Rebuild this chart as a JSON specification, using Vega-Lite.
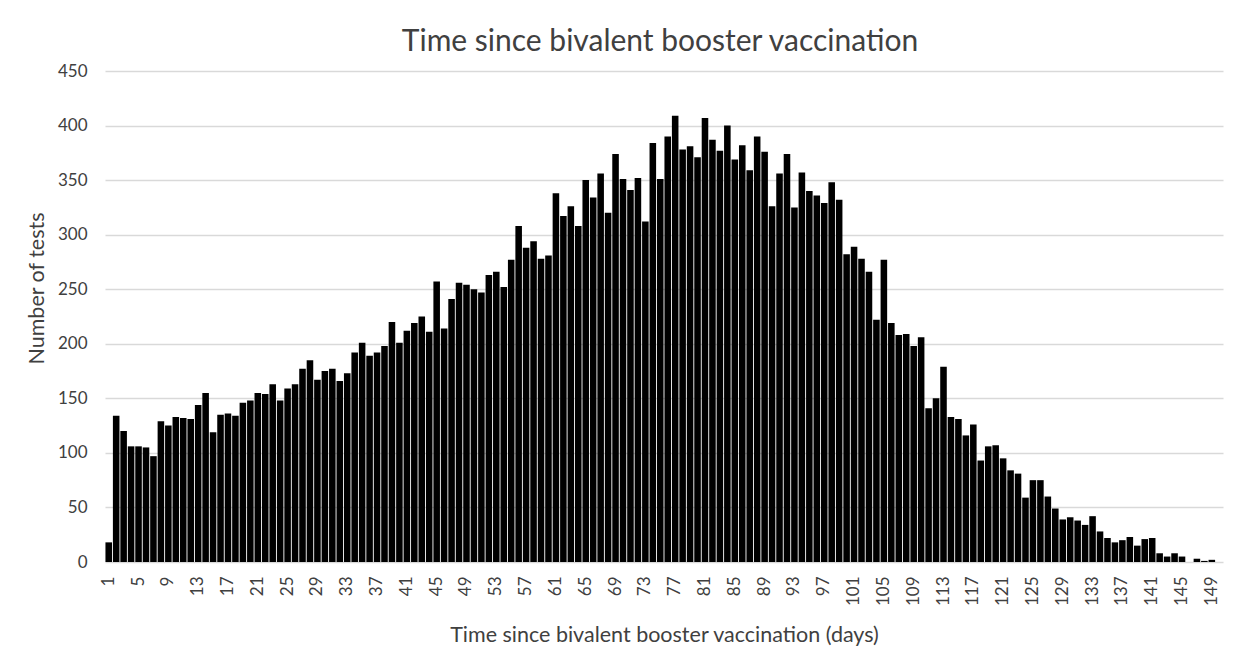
{
  "$schema": "https://vega.github.io/schema/vega-lite/v6.json",
  "autosize": {"type": "none"},
  "padding": {"left": 105, "top": 71, "right": 24, "bottom": 107},
  "width": 1118,
  "height": 491,
  "background": "white",
  "title": {
    "text": "Time since bivalent booster vaccination",
    "font": "Lato",
    "fontSize": 30,
    "fontWeight": "normal",
    "color": "#404040",
    "anchor": "middle",
    "baseline": "alphabetic",
    "offset": -19,
    "dx": -4
  },
  "config": {
    "view": {"stroke": null},
    "axis": {"labelFont": "Lato", "titleFont": "Lato", "labelColor": "#404040", "titleColor": "#404040", "titleFontWeight": "normal"}
  },
  "data": {
    "values": [
      {"day": 1, "tests": 18}, {"day": 2, "tests": 134}, {"day": 3, "tests": 120}, {"day": 4, "tests": 106},
      {"day": 5, "tests": 106}, {"day": 6, "tests": 105}, {"day": 7, "tests": 97}, {"day": 8, "tests": 129},
      {"day": 9, "tests": 125}, {"day": 10, "tests": 133}, {"day": 11, "tests": 132}, {"day": 12, "tests": 131},
      {"day": 13, "tests": 144}, {"day": 14, "tests": 155}, {"day": 15, "tests": 119}, {"day": 16, "tests": 135},
      {"day": 17, "tests": 136}, {"day": 18, "tests": 134}, {"day": 19, "tests": 146}, {"day": 20, "tests": 148},
      {"day": 21, "tests": 155}, {"day": 22, "tests": 154}, {"day": 23, "tests": 163}, {"day": 24, "tests": 148},
      {"day": 25, "tests": 159}, {"day": 26, "tests": 163}, {"day": 27, "tests": 177}, {"day": 28, "tests": 185},
      {"day": 29, "tests": 167}, {"day": 30, "tests": 175}, {"day": 31, "tests": 177}, {"day": 32, "tests": 166},
      {"day": 33, "tests": 173}, {"day": 34, "tests": 192}, {"day": 35, "tests": 201}, {"day": 36, "tests": 189},
      {"day": 37, "tests": 192}, {"day": 38, "tests": 198}, {"day": 39, "tests": 220}, {"day": 40, "tests": 201},
      {"day": 41, "tests": 212}, {"day": 42, "tests": 219}, {"day": 43, "tests": 225}, {"day": 44, "tests": 211},
      {"day": 45, "tests": 257}, {"day": 46, "tests": 214}, {"day": 47, "tests": 241}, {"day": 48, "tests": 256},
      {"day": 49, "tests": 254}, {"day": 50, "tests": 250}, {"day": 51, "tests": 247}, {"day": 52, "tests": 263},
      {"day": 53, "tests": 266}, {"day": 54, "tests": 252}, {"day": 55, "tests": 277}, {"day": 56, "tests": 308},
      {"day": 57, "tests": 288}, {"day": 58, "tests": 294}, {"day": 59, "tests": 278}, {"day": 60, "tests": 281},
      {"day": 61, "tests": 338}, {"day": 62, "tests": 317}, {"day": 63, "tests": 326}, {"day": 64, "tests": 308},
      {"day": 65, "tests": 350}, {"day": 66, "tests": 334}, {"day": 67, "tests": 356}, {"day": 68, "tests": 320},
      {"day": 69, "tests": 374}, {"day": 70, "tests": 351}, {"day": 71, "tests": 341}, {"day": 72, "tests": 352},
      {"day": 73, "tests": 312}, {"day": 74, "tests": 384}, {"day": 75, "tests": 351}, {"day": 76, "tests": 390},
      {"day": 77, "tests": 409}, {"day": 78, "tests": 378}, {"day": 79, "tests": 381}, {"day": 80, "tests": 371},
      {"day": 81, "tests": 407}, {"day": 82, "tests": 387}, {"day": 83, "tests": 377}, {"day": 84, "tests": 400},
      {"day": 85, "tests": 369}, {"day": 86, "tests": 382}, {"day": 87, "tests": 359}, {"day": 88, "tests": 390},
      {"day": 89, "tests": 376}, {"day": 90, "tests": 326}, {"day": 91, "tests": 356}, {"day": 92, "tests": 374},
      {"day": 93, "tests": 325}, {"day": 94, "tests": 357}, {"day": 95, "tests": 340}, {"day": 96, "tests": 336},
      {"day": 97, "tests": 329}, {"day": 98, "tests": 348}, {"day": 99, "tests": 332}, {"day": 100, "tests": 282},
      {"day": 101, "tests": 289}, {"day": 102, "tests": 278}, {"day": 103, "tests": 266}, {"day": 104, "tests": 222},
      {"day": 105, "tests": 277}, {"day": 106, "tests": 219}, {"day": 107, "tests": 208}, {"day": 108, "tests": 209},
      {"day": 109, "tests": 198}, {"day": 110, "tests": 206}, {"day": 111, "tests": 141}, {"day": 112, "tests": 150},
      {"day": 113, "tests": 179}, {"day": 114, "tests": 133}, {"day": 115, "tests": 131}, {"day": 116, "tests": 116},
      {"day": 117, "tests": 126}, {"day": 118, "tests": 93}, {"day": 119, "tests": 106}, {"day": 120, "tests": 107},
      {"day": 121, "tests": 95}, {"day": 122, "tests": 84}, {"day": 123, "tests": 81}, {"day": 124, "tests": 59},
      {"day": 125, "tests": 75}, {"day": 126, "tests": 75}, {"day": 127, "tests": 60}, {"day": 128, "tests": 49},
      {"day": 129, "tests": 39}, {"day": 130, "tests": 41}, {"day": 131, "tests": 38}, {"day": 132, "tests": 34},
      {"day": 133, "tests": 42}, {"day": 134, "tests": 28}, {"day": 135, "tests": 22}, {"day": 136, "tests": 18},
      {"day": 137, "tests": 20}, {"day": 138, "tests": 23}, {"day": 139, "tests": 15}, {"day": 140, "tests": 21},
      {"day": 141, "tests": 22}, {"day": 142, "tests": 8}, {"day": 143, "tests": 5}, {"day": 144, "tests": 8},
      {"day": 145, "tests": 5}, {"day": 146, "tests": 0}, {"day": 147, "tests": 3}, {"day": 148, "tests": 1},
      {"day": 149, "tests": 2}, {"day": 150, "tests": 0}
    ]
  },
  "mark": {"type": "bar", "color": "black"},
  "encoding": {
    "x": {
      "field": "day",
      "type": "ordinal",
      "scale": {"paddingInner": 0.12, "paddingOuter": 0.06},
      "axis": {
        "title": "Time since bivalent booster vaccination (days)",
        "titleFontSize": 21.5,
        "titleBaseline": "alphabetic",
        "titleY": 79,
        "values": [1, 5, 9, 13, 17, 21, 25, 29, 33, 37, 41, 45, 49, 53, 57, 61, 65, 69, 73, 77, 81, 85, 89, 93, 97, 101, 105, 109, 113, 117, 121, 125, 129, 133, 137, 141, 145, 149],
        "labelAngle": 270,
        "labelFontSize": 17,
        "labelPadding": 14,
        "labelOverlap": false,
        "ticks": false,
        "tickSize": 0,
        "domain": false,
        "grid": false
      }
    },
    "y": {
      "field": "tests",
      "type": "quantitative",
      "scale": {"domain": [0, 450], "nice": false},
      "axis": {
        "title": "Number of tests",
        "titleFontSize": 21.5,
        "titleBaseline": "alphabetic",
        "titleX": -62,
        "titleY": 217,
        "titleAlign": "center",
        "values": [0, 50, 100, 150, 200, 250, 300, 350, 400, 450],
        "labelFontSize": 17,
        "labelPadding": 18,
        "ticks": false,
        "tickSize": 0,
        "domain": false,
        "grid": true,
        "gridColor": "#d9d9d9",
        "gridWidth": 1.3
      }
    }
  }
}
